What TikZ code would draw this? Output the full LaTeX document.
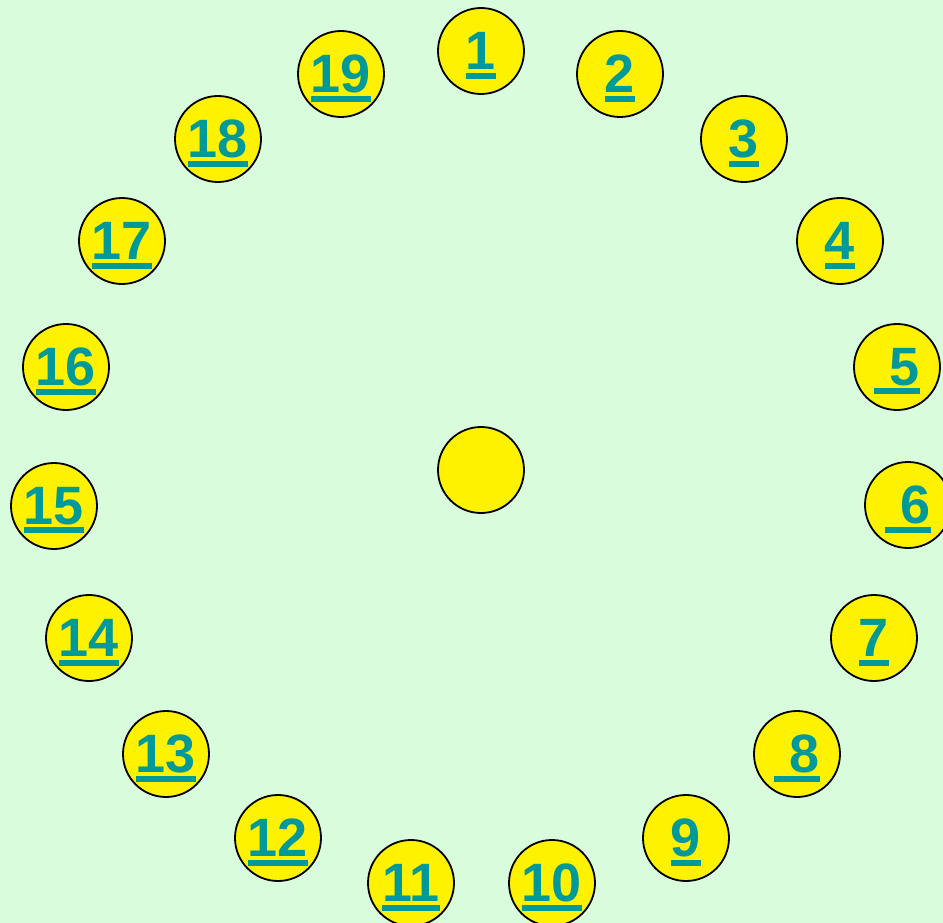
\documentclass[tikz,border=0pt]{standalone}
\usepackage{fontspec}
\setmainfont{Liberation Sans}
\definecolor{bgcol}{RGB}{217,252,220}
\definecolor{numcol}{RGB}{0,153,153}
\newsavebox{\numbox}
\newcommand{\ulnum}[1]{\sbox{\numbox}{#1}\rlap{\raisebox{-9pt}[0pt][0pt]{\rule{\wd\numbox}{6pt}}}\usebox{\numbox}}
\tikzset{ball/.style={circle,draw=black,line width=1.8pt,fill=yellow,minimum size=86pt,inner sep=0pt,
  text=numcol,font=\fontsize{54}{60}\selectfont\bfseries}}
\begin{document}
\begin{tikzpicture}[x=1pt,y=-1pt]
\fill[bgcol] (0,0) rectangle (943,923);
\useasboundingbox (0,0) rectangle (943,923);

\node[ball] (mid) at (481,470) {};

\foreach \n/\t/\x/\y in {1/1/481/51, 2/2/620/74, 3/3/744/139, 4/4/840/241,
  5/\ 5/897/367, 6/\ 6/908/505, 7/7/874/638, 8/\ 8/797/754, 9/9/686/838,
  10/10/552/883, 11/11/411/883, 12/12/278/838, 13/13/166/754, 14/14/89/638,
  15/15/54/506, 16/16/66/367, 17/17/122/241, 18/18/218/139, 19/19/341/74}
  \node[ball] (n\n) at (\x,\y) {\ulnum{\t}};
\end{tikzpicture}
\end{document}
